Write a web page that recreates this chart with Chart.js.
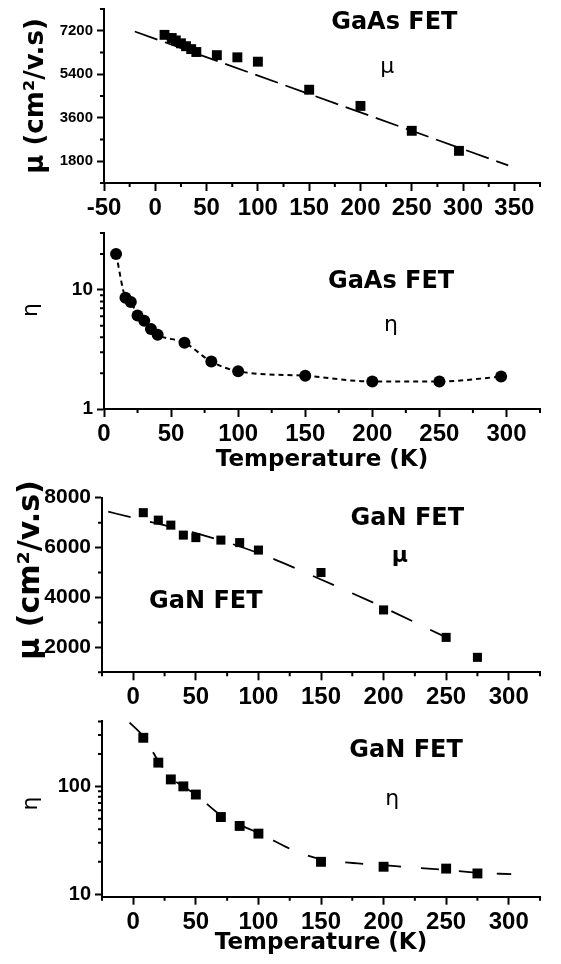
<!DOCTYPE html>
<html>
<head>
<meta charset="utf-8">
<script src="https://cdn.jsdelivr.net/npm/chart.js@4.4.1/dist/chart.umd.min.js"></script>
<style>
  html, body { margin: 0; padding: 0; background: #fff; }
  body { width: 561px; height: 964px; position: relative; overflow: hidden; }
  canvas { position: absolute; left: 0; display: block; }
</style>
</head>
<body>
<canvas id="c1" width="561" height="235" style="top:-10px"></canvas>
<canvas id="c2" width="561" height="265" style="top:215px"></canvas>
<canvas id="c3" width="561" height="237" style="top:478px"></canvas>
<canvas id="c4" width="561" height="264" style="top:700px"></canvas>
<script>
// GaAs FET
const gaasT = [9, 16, 20, 25, 30, 35, 40, 60, 80, 100, 150, 200, 250, 296]
const gaasMu = [7030, 6900, 6800, 6680, 6560, 6440, 6320, 6190, 6100, 5920, 4760, 4090, 3060, 2230]
const gaasEta = [20, 8.6, 7.9, 6.1, 5.5, 4.7, 4.2, 3.6, 2.5, 2.07, 1.9, 1.7, 1.7, 1.87]
const gaasFitT = [-20, 344]
const gaasFitMu = [7170, 1630]

// GaN FET
const ganT = [8, 20, 30, 40, 50, 70, 85, 100, 150, 200, 250, 275]
const ganMu = [7400, 7100, 6900, 6500, 6400, 6300, 6200, 5900, 5000, 3500, 2400, 1600]
const ganEta = [282, 166, 116, 100, 84, 52, 43, 36.5, 20, 18, 17.3, 15.6]
const ganMuFitT = [-20, 0, 50, 100, 150, 200, 250]
const ganMuFitY = [7440, 7190, 6580, 5780, 4720, 3600, 2400]
const ganEtaFitT = [-3, 8, 20, 30, 40, 50, 70, 85, 100, 130, 150, 200, 250, 275, 302]
const ganEtaFitY = [390, 290, 172, 120, 100, 84, 54, 44, 37, 25, 21.2, 18.6, 16.8, 15.8, 15.4]

// tick values
const xTicksA = [-50, 0, 50, 100, 150, 200, 250, 300, 350]
const xMinorA = [-25, 25, 75, 125, 175, 225, 275, 325, 375]
const xTicksB = [0, 50, 100, 150, 200, 250, 300]
const xMinorB = [-25, 25, 75, 125, 175, 225, 275, 325]
const muTicksA = [1800, 3600, 5400, 7200]
const muMinorA = [900, 2700, 4500, 6300, 8100]
const muTicksB = [2000, 4000, 6000, 8000]
const muMinorB = [1000, 3000, 5000, 7000]
const etaTicksA = [1, 10]
const etaMinorA = [2, 3, 4, 5, 6, 7, 8, 9, 20, 30]
const etaTicksB = [10, 100]
const etaMinorB = [20, 30, 40, 50, 60, 70, 80, 90, 200, 300, 400]

const TICK_FONT = '"Liberation Sans", Arial, sans-serif'
const TEXT_FONT = '"DejaVu Sans", sans-serif'

const pts = (xs, ys) => xs.map((x, i) => ({ x: x, y: ys[i] }))

// short minor ticks, drawn on the library scales
const minorTicks = {
  id: "minorTicks",
  afterDraw(chart, args, opts) {
    const ctx = chart.ctx
    const { x, y } = chart.scales
    ctx.save()
    ctx.strokeStyle = "#000"
    ctx.lineWidth = 2
    ctx.beginPath()
    ;(opts.x || []).forEach((v) => {
      const px = x.getPixelForValue(v)
      ctx.moveTo(px, x.top)
      ctx.lineTo(px, x.top + 4)
    })
    ;(opts.y || []).forEach((v) => {
      const py = y.getPixelForValue(v)
      ctx.moveTo(y.right, py)
      ctx.lineTo(y.right - 4, py)
    })
    ctx.stroke()
    ctx.restore()
  },
}

// text labels placed in data units
const notes = {
  id: "notes",
  afterDatasetsDraw(chart, args, opts) {
    const ctx = chart.ctx
    const { x, y } = chart.scales
    ctx.save()
    ctx.fillStyle = "#000"
    ctx.textAlign = "center"
    ctx.textBaseline = "middle"
    ;(opts.items || []).forEach((n) => {
      ctx.font = n.font
      ctx.fillText(n.text, x.getPixelForValue(n.x), y.getPixelForValue(n.y))
    })
    ctx.restore()
  },
}

function makeChart(id, o) {
  const ctx = document.getElementById(id).getContext("2d")
  return new Chart(ctx, {
    type: "line",
    data: { datasets: o.datasets },
    plugins: [minorTicks, notes],
    options: {
      responsive: false,
      animation: false,
      layout: { padding: { top: o.padTop, right: 561 - o.right, left: 0, bottom: 0 } },
      plugins: {
        legend: { display: false },
        tooltip: { enabled: false },
        minorTicks: { x: o.xMinor, y: o.yMinor },
        notes: { items: o.notes },
      },
      scales: {
        x: {
          type: "linear",
          min: o.xMin,
          max: o.xMax,
          afterBuildTicks: (s) => { s.ticks = o.xTicks.map((v) => ({ value: v })) },
          afterFit: (s) => { s.height = o.xHeight },
          border: { color: "#000", width: 2 },
          grid: { drawOnChartArea: false, tickLength: 8, tickWidth: 2, tickColor: "#000" },
          ticks: {
            color: "#000",
            padding: 3,
            maxRotation: 0,
            autoSkip: false,
            font: { family: TICK_FONT, size: o.xFont, weight: "bold" },
            callback: (v) => String(v),
          },
          title: o.xTitle
            ? {
                display: true,
                text: o.xTitle,
                color: "#000",
                font: { family: TEXT_FONT, size: 23, weight: "bold", lineHeight: 1 },
                padding: { top: 0, bottom: o.xTitlePad },
              }
            : { display: false },
        },
        y: {
          type: o.yType,
          min: o.yMin,
          max: o.yMax,
          afterBuildTicks: (s) => { s.ticks = o.yTicks.map((v) => ({ value: v })) },
          afterFit: (s) => { s.width = o.left },
          border: { color: "#000", width: 2 },
          grid: { drawOnChartArea: false, tickLength: 7, tickWidth: 2, tickColor: "#000" },
          ticks: {
            color: "#000",
            padding: 4,
            autoSkip: false,
            font: { family: TICK_FONT, size: o.yFont, weight: "bold" },
            callback: (v) => String(v),
          },
          title: {
            display: true,
            text: o.yTitle,
            color: "#000",
            font: { family: TEXT_FONT, size: o.yTitleSize, weight: o.yTitleWeight, lineHeight: 1 },
            padding: { top: o.yTitlePad, bottom: 0 },
          },
        },
      },
    },
  })
}

const squares = (data, r) => ({
  data: data,
  showLine: false,
  pointStyle: "rect",
  pointRadius: r,
  pointBackgroundColor: "#000",
  pointBorderColor: "#000",
  pointBorderWidth: 0,
  clip: false,
})

const dashed = (data, dash, tension) => ({
  data: data,
  borderColor: "#000",
  borderWidth: 1.8,
  borderDash: dash,
  pointRadius: 0,
  tension: tension,
  cubicInterpolationMode: tension ? "monotone" : "default",
  fill: false,
  clip: false,
})

// GaAs mobility
makeChart("c1", {
  padTop: 19, right: 540, left: 104, xHeight: 42,
  xMin: -50, xMax: 375, xTicks: xTicksA, xMinor: xMinorA, xFont: 24,
  yType: "linear", yMin: 900, yMax: 8100, yTicks: muTicksA, yMinor: muMinorA, yFont: 15,
  yTitle: "μ (cm²/v.s)", yTitleSize: 26, yTitleWeight: "bold", yTitlePad: 23,
  datasets: [squares(pts(gaasT, gaasMu), 7), dashed(pts(gaasFitT, gaasFitMu), [24, 8], 0)],
  notes: [
    { text: "GaAs FET", x: 233, y: 7520, font: 'bold 24px ' + TEXT_FONT },
    { text: "μ", x: 226, y: 5700, font: '22px ' + TEXT_FONT },
  ],
})

// GaAs eta
makeChart("c2", {
  padTop: 18, right: 540, left: 104, xHeight: 71,
  xMin: 0, xMax: 325, xTicks: xTicksB, xMinor: xMinorB.slice(1), xFont: 24,
  xTitle: "Temperature (K)", xTitlePad: 8,
  yType: "logarithmic", yMin: 1, yMax: 30, yTicks: etaTicksA, yMinor: etaMinorA, yFont: 19,
  yTitle: "\u2003η", yTitleSize: 22, yTitleWeight: "normal", yTitlePad: 20,
  datasets: [
    {
      data: pts(gaasT, gaasEta),
      showLine: true,
      borderColor: "#000",
      borderWidth: 2,
      borderDash: [5, 4],
      tension: 0.4,
      cubicInterpolationMode: "monotone",
      pointStyle: "circle",
      pointRadius: 6,
      pointBackgroundColor: "#000",
      pointBorderColor: "#000",
      pointBorderWidth: 0,
      clip: false,
    },
  ],
  notes: [
    { text: "GaAs FET", x: 214, y: 11.8, font: 'bold 24px ' + TEXT_FONT },
    { text: "η", x: 214, y: 5.0, font: '22px ' + TEXT_FONT },
  ],
})

// GaN mobility
makeChart("c3", {
  padTop: 19.7, right: 540, left: 102, xHeight: 42.7,
  xMin: -25, xMax: 325, xTicks: xTicksB, xMinor: xMinorB, xFont: 24,
  yType: "linear", yMin: 1000, yMax: 8000, yTicks: muTicksB, yMinor: muMinorB, yFont: 21,
  yTitle: "\u2003μ (cm²/v.s)", yTitleSize: 30, yTitleWeight: "bold", yTitlePad: 16,
  datasets: [squares(pts(ganT, ganMu), 6.4), dashed(pts(ganMuFitT, ganMuFitY), [23, 20], 0.3)],
  notes: [
    { text: "GaN FET", x: 219, y: 7160, font: 'bold 24px ' + TEXT_FONT },
    { text: "μ", x: 213, y: 5645, font: 'bold 22px ' + TEXT_FONT },
    { text: "GaN FET", x: 58, y: 3830, font: 'bold 24px ' + TEXT_FONT },
  ],
})

// GaN eta
makeChart("c4", {
  padTop: 21.4, right: 540, left: 102, xHeight: 67.3,
  xMin: -25, xMax: 325, xTicks: xTicksB, xMinor: xMinorB, xFont: 24,
  xTitle: "Temperature (K)", xTitlePad: 9,
  yType: "logarithmic", yMin: 9.5, yMax: 400, yTicks: etaTicksB, yMinor: etaMinorB, yFont: 20,
  yTitle: "\u2002η", yTitleSize: 22, yTitleWeight: "normal", yTitlePad: 20,
  datasets: [squares(pts(ganT, ganEta), 7), dashed(pts(ganEtaFitT, ganEtaFitY), [18, 20], 0.3)],
  notes: [
    { text: "GaN FET", x: 218, y: 216, font: 'bold 24px ' + TEXT_FONT },
    { text: "η", x: 207, y: 76, font: '22px ' + TEXT_FONT },
  ],
})
</script>
</body>
</html>
